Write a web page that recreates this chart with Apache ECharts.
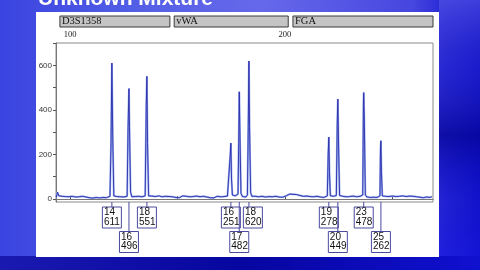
<!DOCTYPE html>
<html><head><meta charset="utf-8">
<script src="https://cdn.jsdelivr.net/npm/echarts@6/dist/echarts.min.js"></script>
<style>html,body{margin:0;padding:0;background:#2a2ad8}#c{width:480px;height:270px}</style>
</head><body><div id="c"></div>
<script>
// ---- data ----
const titleText = 'Unknown Mixture';
const lociNames = ['D3S1358', 'vWA', 'FGA'];
const lociStart = [95.3, 148.5, 203.8];
const lociEnd = [146.5, 201.6, 269.0];
const alleles = ['14', '16', '18', '16', '17', '18', '19', '20', '23', '25'];
const alleleLocus = [0, 0, 0, 1, 1, 1, 2, 2, 2, 2];
const peakSize = [119.5, 127.45, 135.8, 174.9, 178.8, 183.3, 220.5, 224.7, 236.75, 244.75];
const peakHeight = [611, 496, 551, 251, 482, 620, 278, 449, 478, 262];
const yLabelValues = [0, 200, 400, 600];
const yTickValues = [0, 100, 200, 300, 400, 500, 600, 700];
const xLabelValues = [100, 200];
const xTickValues = [100, 150, 200, 250];
const trace = [
[93.6,8],[94.2,30],[94.8,14],[95.5,6],[96.3,12],[97,7],[97.8,11],[98.6,5],[99.4,10],[100.2,6],[101,12],[101.8,7],[102.6,9],[103.4,4],[104.2,10],[105,7],[105.8,12],[106.6,5],[107.4,9],[108.2,13],[109,6],[109.8,8],[110.6,4],[111.4,9],[112.2,7],[113,11],[113.8,5],[114.6,10],[115.4,7],[116.2,12],[117,6],[117.8,9],
[118.6,12],[119.1,250],[119.5,611],[119.9,280],[120.4,14],
[121,7],[121.8,11],[122.6,6],[123.4,10],[124.2,5],[125,9],[125.8,7],
[126.6,12],[127.0,300],[127.2,390],[127.45,496],[127.7,320],[128.2,30],[128.8,10],
[129.5,6],[130.3,11],[131.1,7],[131.9,12],[132.7,6],[133.5,10],[134.3,8],
[135.0,14],[135.5,420],[135.8,551],[136.1,250],[136.6,14],
[137.3,9],[138.1,13],[138.9,6],[139.7,11],[140.5,8],[141.3,14],[142.1,7],[142.9,10],[143.7,6],[144.5,12],[145.3,8],[146.1,11],[146.9,5],[147.7,10],[148.5,13],[149.3,7],[150.1,11],[150.9,6],[151.7,9],[152.5,14],[153.3,8],[154.1,12],[154.9,7],[155.7,10],[156.5,5],[157.3,11],[158.1,8],[158.9,13],[159.7,6],[160.5,10],[161.3,7],[162.1,12],[162.9,6],[163.7,9],[164.5,11],[165.3,6],[166.1,10],[166.9,5],[167.7,8],[168.5,12],[169.3,7],[170.1,10],[170.9,6],[171.7,11],[172.5,8],[173.3,13],
[174.2,16],[174.6,200],[174.9,251],[175.2,90],[175.6,18],
[176.2,10],[176.9,14],[177.6,9],
[178.2,22],[178.55,250],[178.8,482],[179.1,300],[179.6,25],
[180.3,11],[181.1,15],[181.9,9],
[182.6,18],[183.0,330],[183.3,620],[183.6,320],[184.1,28],[184.7,12],
[185.4,8],[186.2,12],[187,6],[187.8,10],[188.6,7],[189.4,12],[190.2,5],[191,9],[191.8,7],[192.6,11],[193.4,6],[194.2,10],[195,8],[195.8,12],[196.6,7],[197.4,9],[198.2,13],[199,8],[199.8,11],[200.6,14],[201.4,18],[202.2,22],[203,26],[203.8,21],[204.6,27],[205.4,20],[206.2,24],[207,16],[207.8,19],[208.6,12],[209.4,10],[210.2,13],[211,7],[211.8,11],[212.6,6],[213.4,10],[214.2,8],[215,12],[215.8,6],[216.6,9],[217.4,11],[218.2,7],[219,10],
[219.8,14],[220.2,200],[220.5,278],[220.8,120],[221.2,15],
[221.9,9],[222.7,12],[223.5,8],
[224.0,16],[224.4,330],[224.7,449],[225.0,260],[225.5,16],
[226.2,8],[227,12],[227.8,6],[228.6,10],[229.4,7],[230.2,11],[231,9],[231.8,13],[232.6,7],[233.4,10],[234.2,8],[235,12],[235.8,9],
[236.3,18],[236.6,420],[236.75,478],[237.0,370],[237.5,18],
[238.2,9],[239,13],[239.8,7],[240.6,11],[241.4,8],[242.2,12],[243,7],[243.8,10],
[244.3,14],[244.55,220],[244.75,262],[245.0,120],[245.4,14],
[246.1,8],[246.9,12],[247.7,7],[248.5,11],[249.3,9],[250.1,13],[250.9,8],[251.7,11],[252.5,6],[253.3,12],[254.1,9],[254.9,14],[255.7,8],[256.5,11],[257.3,7],[258.1,13],[258.9,9],[259.7,12],[260.5,7],[261.3,10],[262.1,14],[262.9,8],[263.7,11],[264.5,6],[265.3,12],[266.1,9],[266.9,13],[267.7,7],[268.5,11]
];

// ---- helpers ----
function rowOf(j) {
  let n = 0;
  for (let k = 0; k < j; k++) if (alleleLocus[k] === alleleLocus[j]) n++;
  return n % 2;
}

const chart = echarts.init(document.getElementById('c'), null, {renderer: 'canvas'});
const BOX_W = 19, BOX_H = 21;

const option = {
  animation: false,
  graphic: [
    {type: 'rect', z: -10, silent: true, shape: {x: 0, y: 0, width: 480, height: 270},
     style: {fill: new echarts.graphic.LinearGradient(0, 0, 1, 0, [
       {offset: 0, color: '#3a44e0'}, {offset: 0.3, color: '#5560e6'},
       {offset: 0.55, color: '#6668ea'}, {offset: 0.86, color: '#4646e0'},
       {offset: 0.93, color: '#2626d6'}, {offset: 1, color: '#1414cc'}])}},
    {type: 'rect', z: -9, silent: true, shape: {x: 439, y: 0, width: 41, height: 270},
     style: {fill: new echarts.graphic.LinearGradient(0, 0, 0, 1, [
       {offset: 0, color: 'rgba(90,90,230,0.6)'}, {offset: 0.25, color: 'rgba(40,40,200,0.3)'},
       {offset: 0.5, color: 'rgba(0,0,140,0.65)'}, {offset: 0.75, color: 'rgba(10,10,200,0.2)'},
       {offset: 1, color: 'rgba(20,20,235,0.5)'}])}},
    {type: 'rect', z: -9, silent: true, shape: {x: 0, y: 256, width: 480, height: 14},
     style: {fill: new echarts.graphic.LinearGradient(0, 0, 1, 0, [
       {offset: 0, color: '#1a1ab0'}, {offset: 0.5, color: '#0606a0'}, {offset: 1, color: '#1010d0'}])}},
    {type: 'rect', z: -8, silent: true, shape: {x: 36, y: 12, width: 403, height: 245},
     style: {fill: '#ffffff'}},
    {type: 'text', z: 10, silent: true, x: 38, y: -1,
     style: {text: titleText, font: 'bold 21px "Liberation Sans", Arial, sans-serif',
             fill: '#ffffff', verticalAlign: 'middle'}}
  ],
  grid: {left: 56, right: 47, top: 43, bottom: 68, show: true,
         borderColor: '#8a8a8a', borderWidth: 1, backgroundColor: 'transparent'},
  xAxis: {
    type: 'value', position: 'top', min: 93.48, max: 269.0,
    axisLine: {show: true, lineStyle: {color: '#777', width: 1}},
    axisTick: {show: true, length: 3, customValues: xTickValues, lineStyle: {color: '#444'}},
    axisLabel: {show: true, customValues: xLabelValues, margin: 4,
                fontFamily: '"Liberation Serif", "Times New Roman", serif', fontSize: 8.5, color: '#222'},
    splitLine: {show: false}
  },
  yAxis: {
    type: 'value', min: -13.5, max: 701,
    axisLine: {show: true, lineStyle: {color: '#777', width: 1}},
    axisTick: {show: true, length: 3, customValues: yTickValues, lineStyle: {color: '#555'}},
    axisLabel: {show: true, customValues: yLabelValues, margin: 4,
                fontFamily: '"Liberation Sans", Arial, sans-serif', fontSize: 8, color: '#333'},
    splitLine: {show: false}
  },
  series: [
    {type: 'line', data: trace, symbol: 'none', z: 2,
     lineStyle: {color: '#9ab2f0', width: 2.0}},
    {type: 'line', data: trace, symbol: 'none', z: 3,
     lineStyle: {color: '#2a2aa8', width: 0.9}},
    {type: 'custom', z: 5, clip: false,
     data: lociStart.map((s, i) => [s, lociEnd[i]]),
     encode: {x: [0, 1]},
     renderItem: function (params, api) {
       const s = api.coord([api.value(0), 0])[0];
       const e = api.coord([api.value(1), 0])[0];
       const top = params.coordSys.y;
       return {type: 'group', children: [
         {type: 'rect', shape: {x: s, y: top - 27, width: e - s, height: 11},
          style: {fill: '#c4c4c4', stroke: '#3a3a3a', lineWidth: 1}},
         {type: 'text', style: {text: lociNames[params.dataIndex], x: s + 2, y: top - 21.3,
           verticalAlign: 'middle', font: '10.5px "Liberation Serif", "Times New Roman", serif', fill: '#111'}}
       ]};
     }},
    {type: 'custom', z: 6, clip: false,
     data: peakSize.map((s, i) => [s, peakHeight[i]]),
     encode: {x: 0, y: 1},
     renderItem: function (params, api) {
       const i = params.dataIndex;
       const cs = params.coordSys;
       const bottom = cs.y + cs.height;
       const prevRight = [-1e9, -1e9];
       let left = 0, px = 0;
       for (let j = 0; j <= i; j++) {
         const p = api.coord([peakSize[j], 0])[0];
         const r = rowOf(j);
         const l = Math.max(p - BOX_W / 2, prevRight[r] + 3);
         prevRight[r] = l + BOX_W;
         if (j === i) { left = l; px = p; }
       }
       const row = rowOf(i);
       const top = bottom + (row === 0 ? 5 : 29.5);
       return {type: 'group', children: [
         {type: 'line', shape: {x1: px, y1: bottom, x2: px, y2: top},
          style: {stroke: '#4a4aa0', lineWidth: 1}},
         {type: 'rect', shape: {x: left, y: top, width: BOX_W, height: BOX_H},
          style: {fill: '#ffffff', stroke: '#4a4aa0', lineWidth: 1}},
         {type: 'text', style: {text: alleles[i], x: left + 1.5, y: top + 5.5, verticalAlign: 'middle',
           font: '10px "Liberation Sans", Arial, sans-serif', fill: '#111'}},
         {type: 'text', style: {text: String(api.value(1)), x: left + 1.5, y: top + 15, verticalAlign: 'middle',
           font: '10px "Liberation Sans", Arial, sans-serif', fill: '#111'}}
       ]};
     }}
  ]
};
chart.setOption(option);
</script>
</body></html>
